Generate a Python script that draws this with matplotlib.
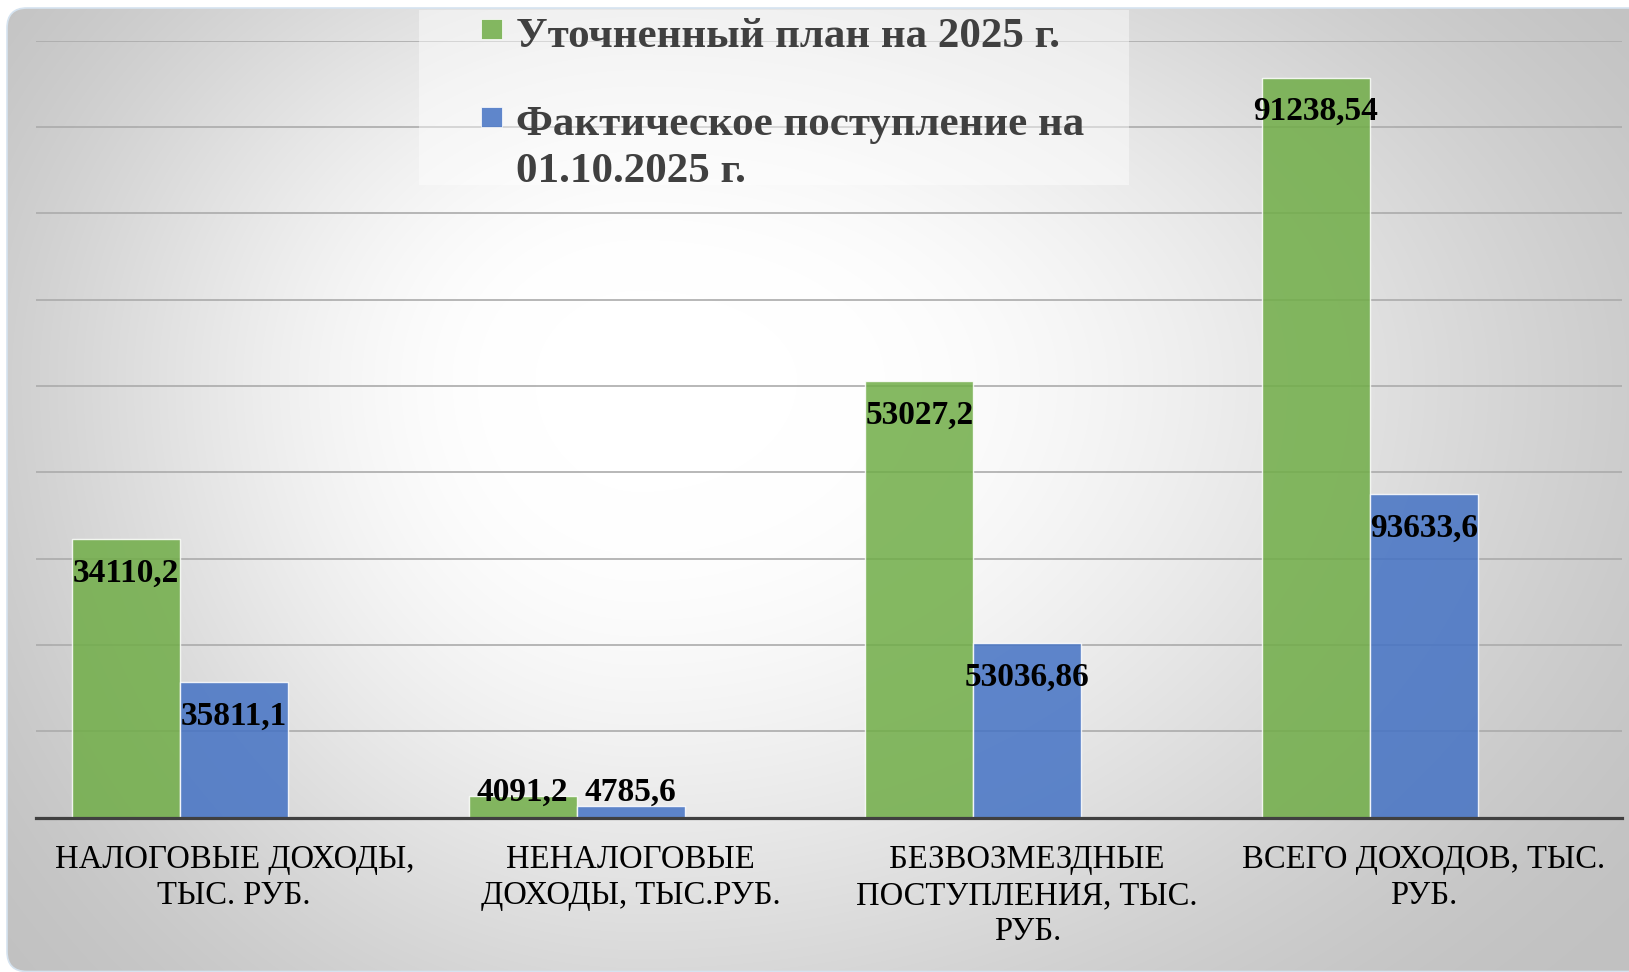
import numpy as np
import matplotlib
matplotlib.use("Agg")
import matplotlib.pyplot as plt
from matplotlib.patches import FancyBboxPatch, Rectangle

# ── data ─────────────────────────────────────────────────────────
categories = [
    "НАЛОГОВЫЕ ДОХОДЫ,\nТЫС. РУБ.",
    "НЕНАЛОГОВЫЕ\nДОХОДЫ, ТЫС.РУБ.",
    "БЕЗВОЗМЕЗДНЫЕ\nПОСТУПЛЕНИЯ, ТЫС.\nРУБ.",
    "ВСЕГО ДОХОДОВ, ТЫС.\nРУБ.",
]
series_names = ["Уточненный план на 2025 г.",
                "Фактическое поступление на\n01.10.2025 г."]
# bar heights as drawn in the picture (gridline step = 10000)
plan_heights = [32300, 2550, 50550, 85700]
fact_heights = [15700, 1310, 20200, 37450]
# data labels as typed on the chart
plan_labels = ["34110,2", "4091,2", "53027,2", "91238,54"]
fact_labels = ["35811,1", "4785,6", "53036,86", "93633,6"]

# ── style ────────────────────────────────────────────────────────
W, H, DPI = 1629, 972, 100
GREEN, BLUE = "#70AD47", "#4472C4"
TXT = "#404040"
plt.rcParams["font.family"] = ["Liberation Serif", "DejaVu Serif"]

fig = plt.figure(figsize=(W / DPI, H / DPI), dpi=DPI)
fig.patch.set_facecolor("white")

# background panel with radial grey gradient
bg = fig.add_axes([0, 0, 1, 1], zorder=-1)
bg.set_xlim(0, W)
bg.set_ylim(H, 0)
bg.axis("off")
yy, xx = np.mgrid[0:H, 0:W].astype(float)
dx, dy = xx - 640, yy - 380
nx = np.where(dx < 0, dx / 700, dx / 1050)
ny = np.where(dy < 0, dy / 600, dy / 750)
t = np.clip((np.hypot(nx, ny) - 0.15) / 1.1, 0, 1)
v = (255 - 62 * t * t * (3 - 2 * t)) / 255
img = np.dstack([v, v, v])
panel = FancyBboxPatch((7, 8), W + 20, H - 8.5,
                       boxstyle="round,pad=0,rounding_size=20",
                       facecolor="none", edgecolor="#D5E3F0", lw=1.2)
bg.add_patch(panel)
im = bg.imshow(img, extent=(0, W, H, 0), aspect="auto", interpolation="bilinear")
im.set_clip_path(panel)

# main axes (pixel geometry of the plot area)
x0, x1, ytop, ybase = 36, 1622, 40.5, 817.7
ax = fig.add_axes([x0 / W, 1 - ybase / H, (x1 - x0) / W, (ybase - ytop) / H])
ax.patch.set_alpha(0)

x = np.arange(len(categories))
w = 0.2724
bars_plan = ax.bar(x - w, plan_heights, w, color=GREEN, alpha=0.85,
                   edgecolor="white", linewidth=1.0)
bars_fact = ax.bar(x, fact_heights, w, color=BLUE, alpha=0.85,
                   edgecolor="white", linewidth=1.0)

ymax = 90000
ax.set_xlim(-0.5, len(categories) - 0.5)
ax.set_ylim(0, ymax)
ax.set_yticks(np.arange(0, ymax + 1, 10000))
ax.yaxis.grid(True, color="#ABABAB", linewidth=1.2)
ax.set_axisbelow(True)
for s in ["left", "right", "top"]:
    ax.spines[s].set_visible(False)
ax.spines["bottom"].set_color(TXT)
ax.spines["bottom"].set_linewidth(2.3)
ax.tick_params(axis="y", length=0, labelleft=False)
ax.set_xticks(x)
ax.set_xticklabels(categories, fontsize=23.5, linespacing=1.25,
                   fontfamily="Liberation Serif")
ax.tick_params(axis="x", length=0, pad=19, labelcolor="black")

# data labels: inside end, pushed up above axis for tiny bars
upp = ymax / (ybase - ytop)   # data units per pixel
for bars, labels in [(bars_plan, plan_labels), (bars_fact, fact_labels)]:
    for b, lab in zip(bars, labels):
        h = b.get_height()
        yb = max(h - 42.5 * upp, 16.5 * upp)
        ax.text(b.get_x() + b.get_width() / 2, yb, lab, ha="center",
                va="baseline", fontsize=24, fontweight="bold", color="black",
                zorder=5)

# legend (drawn by hand to match the layout)
def fx(px):
    return px / W

def fy(py):
    return 1 - py / H

fig.add_artist(Rectangle((fx(419), fy(185)), (1129 - 419) / W, 175 / H,
                         transform=fig.transFigure, facecolor="white",
                         alpha=0.45, lw=0, zorder=2))
legend_rows = [(GREEN, series_names[0], 47), (BLUE, series_names[1], 135)]
for col, name, base in legend_rows:
    fig.add_artist(Rectangle((fx(481), fy(base - 8)), 21 / W, 20 / H,
                             transform=fig.transFigure, facecolor=col,
                             alpha=0.85, edgecolor="white", lw=0.6, zorder=3))
    for i, line in enumerate(name.split("\n")):
        fig.text(fx(516), fy(base + i * 47), line, ha="left", va="baseline",
                 fontsize=31, fontweight="bold", color=TXT, zorder=4)

fig.savefig("out.png", dpi=DPI)
